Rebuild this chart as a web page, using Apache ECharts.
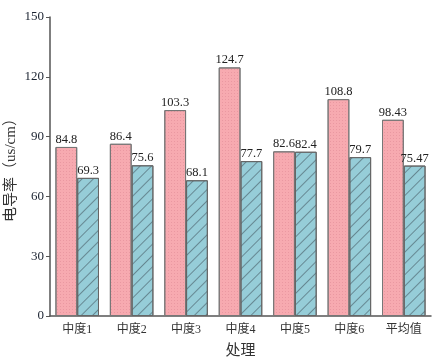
<!DOCTYPE html>
<html><head><meta charset="utf-8">
<script src="https://cdn.jsdelivr.net/npm/echarts@6/dist/echarts.min.js"></script>
<style>html,body{margin:0;padding:0;background:#fff}#c{width:443px;height:364px}</style>
</head><body><div id="c"></div>
<script>
const categories = ['中度1','中度2','中度3','中度4','中度5','中度6','平均值'];
const seriesA = [84.8, 86.4, 103.3, 124.7, 82.6, 108.8, 98.43];
const seriesB = [69.3, 75.6, 68.1, 77.7, 82.4, 79.7, 75.47];
const yTicks = [0, 30, 60, 90, 120, 150];

const serif = '"Liberation Serif","Noto Sans CJK SC",serif';
const chart = echarts.init(document.getElementById('c'));
chart.setOption({
  animation: false,
  grid: {left: 50, right: 12, top: 17, bottom: 48, containLabel: false, outerBoundsMode: 'none'},
  xAxis: {
    type: 'category', data: categories,
    axisLine: {lineStyle: {color: '#555', width: 1.5}},
    axisTick: {inside: true, length: 3, lineStyle: {color: '#555'}},
    axisLabel: {color: '#333', fontSize: 12, fontFamily: serif, margin: 8},
    name: '处理', nameLocation: 'middle', nameGap: 28, nameMoveOverlap: false,
    nameTextStyle: {color: '#333', fontSize: 15, fontFamily: serif}
  },
  yAxis: {
    type: 'value', min: yTicks[0], max: yTicks[yTicks.length-1], interval: 30,
    axisLine: {show: true, lineStyle: {color: '#555', width: 1.5}},
    axisTick: {show: true, length: 4, lineStyle: {color: '#555'}},
    splitLine: {show: false},
    axisLabel: {color: '#1a2230', fontSize: 13, fontFamily: serif, margin: 6},
    name: '电导率（us/cm）', nameLocation: 'middle', nameGap: 31, nameMoveOverlap: false,
    nameTextStyle: {color: '#333', fontSize: 15, fontFamily: serif, padding: [0, 0, 0, 0]}
  },
  series: [
    {
      type: 'bar', data: seriesA, barGap: '0%', barCategoryGap: '20%',
      itemStyle: {color: '#F7AAB0', borderColor: '#777', borderWidth: 1,
        decal: {symbol: 'rect', symbolSize: 1, dashArrayX: [1, 2], dashArrayY: [1, 2], color: 'rgba(210,120,135,0.35)'}},
      label: {show: true, position: 'top', distance: 1, color: '#222', fontSize: 12.5, fontFamily: serif}
    },
    {
      type: 'bar', data: seriesB,
      itemStyle: {color: '#96CDD8', borderColor: '#666', borderWidth: 1,
        decal: {symbol: 'rect', dashArrayX: [1, 0], dashArrayY: [1, 7], rotation: -Math.PI/4, color: 'rgba(70,90,100,0.6)'}},
      label: {show: true, position: 'top', distance: 1, color: '#222', fontSize: 12.5, fontFamily: serif}
    }
  ]
});
</script></body></html>
